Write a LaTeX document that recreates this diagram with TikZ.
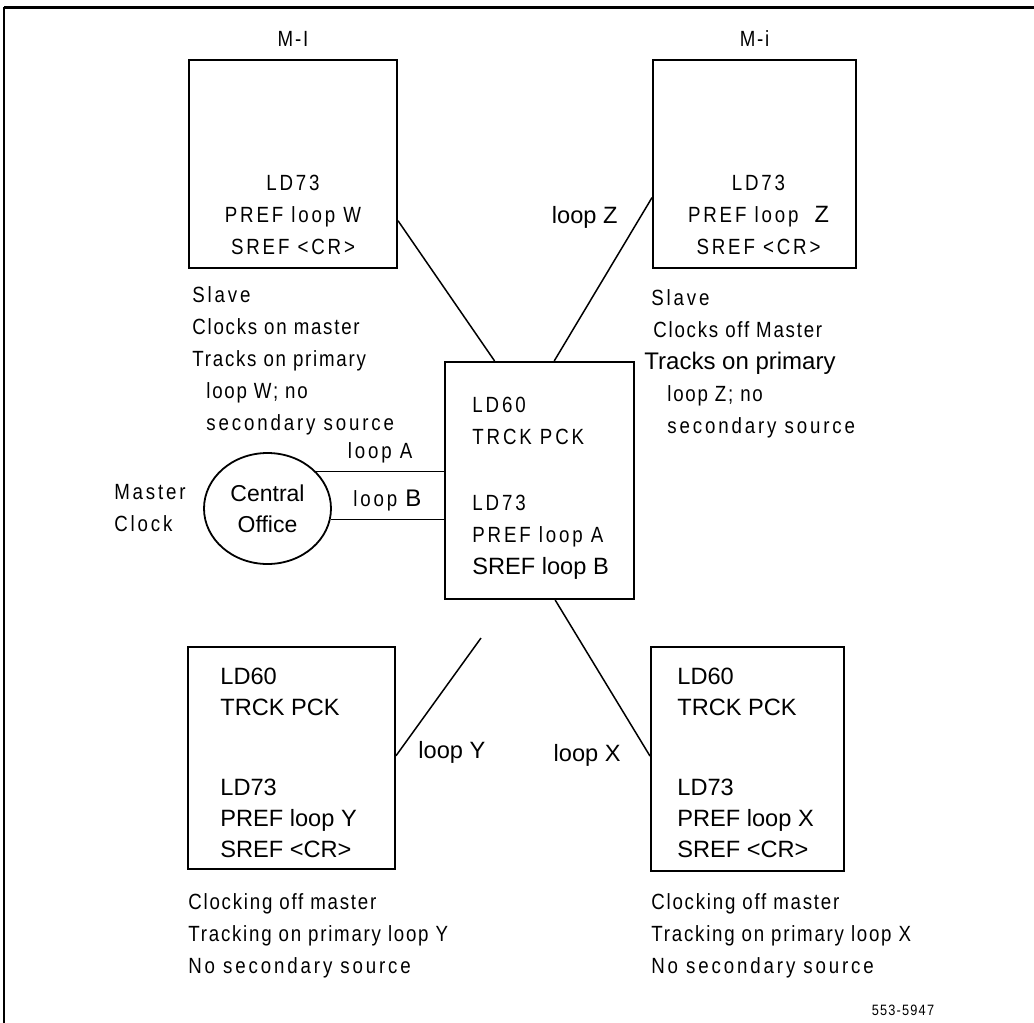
\documentclass[tikz,border=0pt]{standalone}
\usepackage{fontspec}
\setmainfont{Liberation Sans}
\newfontfamily\narrowfont[FakeStretch=0.85,LetterSpace=8]{Liberation Sans}
\newfontfamily\spacedfont[FakeStretch=0.85,LetterSpace=13]{Liberation Sans}
\usetikzlibrary{positioning, calc, shapes.geometric}

\begin{document}
\begin{tikzpicture}[
            x=0.5pt, y=-0.5pt,
            box/.style={rectangle, draw, line width=1pt, inner sep=0pt},
            office/.style={ellipse, draw, line width=0.9pt, inner sep=0pt, align=center,
                minimum width=63.5pt, minimum height=55.5pt, font=\fontsize{11.5}{15.5}\selectfont},
            wire/.style={line width=0.75pt},
            nar/.style={font=\narrowfont\fontsize{11}{16}\selectfont, inner sep=0pt, align=left},
            spc/.style={font=\spacedfont\fontsize{11}{16}\selectfont, inner sep=0pt, align=left},
            reg/.style={font=\fontsize{11.8}{15.5}\selectfont, inner sep=0pt, align=left}
        ]

        \useasboundingbox (0,0) rectangle (1034,1023);

        %% page frame
        \draw[line width=1.5pt] (1034,7) -- (4,7);
        \draw[line width=1pt] (4,7) -- (4,1023);

        %% -- top row : slave nodes -----------------------------
        \node[box, minimum width=104pt, minimum height=104pt] (mI) at (293,164) {};
        \node[box, minimum width=101.5pt, minimum height=104pt, right=127pt of mI] (mi) {};

        \node[nar, above=6pt of mI] (mI_name) {M-I};
        \node[nar, above=6pt of mi] (mi_name) {M-i};

        \node[spc, align=center, above=7pt of mI.south] (mI_cmd) {LD73\\PREF loop W\\SREF <CR>};
        \node[spc, align=center, above=7pt of mi.south, xshift=2pt] (mi_cmd)
            {LD73\\PREF loop \ {\rmfamily\fontsize{11.8}{16}\selectfont Z}\\SREF <CR>};

        \node[nar, below right=8.5pt and 2pt of mI.south west] (mI_note)
            {{\spacedfont Slave}\\Clocks on master\\Tracks on primary\\\hspace*{7pt}loop W; no\\\hspace*{7pt}{\spacedfont secondary source}};
        \node[nar, below right=10pt and -4pt of mi.south west] (mi_note)
            {\hspace*{3.5pt}{\spacedfont Slave}\\\hspace*{4.5pt}Clocks off Master\\{\rmfamily\fontsize{12}{16}\selectfont Tracks on primary}\\\hspace*{11.5pt}loop Z; no\\\hspace*{11.5pt}{\spacedfont secondary source}};

        %% -- middle : master node and central office ------------
        \node[box, minimum width=94.5pt, minimum height=118.5pt] (ctr) at (539.5,480.5) {};
        \node[spc, below right=17.75pt and 14pt of ctr.north west] (ctr_cmd)
            {LD60\\TRCK PCK\\[17pt]LD73\\PREF loop A\\{\rmfamily\fontsize{11.8}{15.5}\selectfont SREF loop B}};

        \node[office] (co) at (267.5,508.5) {Central\\Office};
        \node[spc, left=8.5pt of co] (master) {Master\\Clock};

        %% -- bottom row ------------------------------------------
        \node[box, minimum width=103.5pt, minimum height=111pt] (bl) at (291.5,758) {};
        \node[box, minimum width=96.5pt, minimum height=112pt] (br) at (747.5,759) {};

        \node[reg, below right=11pt and 16.5pt of bl.north west] (bl_cmd)
            {LD60\\TRCK PCK\\[24.5pt]LD73\\PREF loop Y\\SREF <CR>};
        \node[reg, below right=11pt and 13.5pt of br.north west] (br_cmd)
            {LD60\\TRCK PCK\\[24.5pt]LD73\\PREF loop X\\SREF <CR>};

        \node[nar, below right=11.75pt and 0.5pt of bl.south west] (bl_note)
            {Clocking off master\\Tracking on primary loop Y\\{\spacedfont No secondary source}};
        \node[nar, below right=10.75pt and 0.5pt of br.south west] (br_note)
            {Clocking off master\\Tracking on primary loop X\\{\spacedfont No secondary source}};

        \node[font=\narrowfont\fontsize{7.5}{9}\selectfont] (fig_no) at (903,1010) {553-5947};

        %% -- loops ---------------------------------------------
        \draw[wire] ($(mI.north east)!0.77!(mI.south east)$) -- ($(ctr.north west)!0.265!(ctr.north east)$);
        \draw[wire] ($(mi.north west)!0.66!(mi.south west)$)
            -- node[reg, pos=0.12, left=11pt] {loop Z} ($(ctr.north west)!0.577!(ctr.north east)$);

        \draw[wire] (co.37) -- node[spc, above=4pt] {loop A} (co.37 -| ctr.west);
        \draw[wire] (co.-10.5) -- node[spc, above=4pt] {loop {\rmfamily\fontsize{12}{14}\selectfont B}} (co.-10.5 -| ctr.west);

        \coordinate[below right=19pt and 18.5pt of ctr.south west] (yEnd);
        \draw[wire] ($(bl.north east)!0.49!(bl.south east)$) -- (yEnd);
        \node[reg, right=11pt of bl.east, yshift=3pt] (loopY) {loop Y};

        \draw[wire] ($(ctr.south west)!0.582!(ctr.south east)$) -- ($(br.north west)!0.487!(br.south west)$);
        \node[reg, left=14.5pt of br.west, yshift=2pt] (loopX) {loop X};

\end{tikzpicture}
\end{document}
